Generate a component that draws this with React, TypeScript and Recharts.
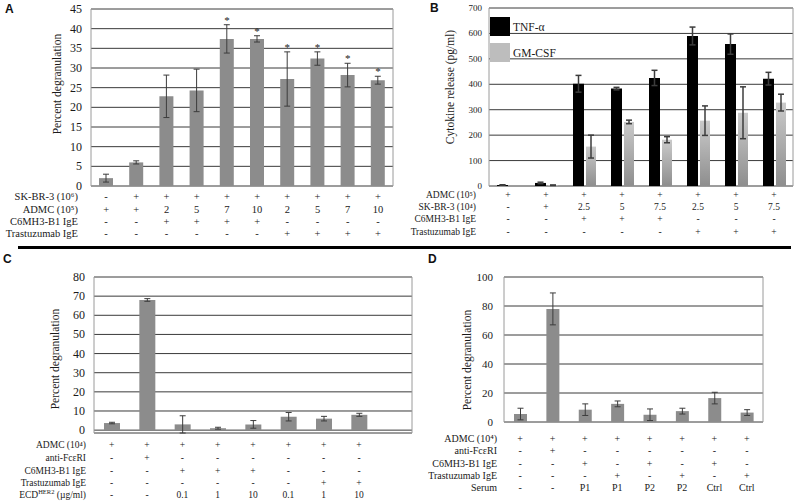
import type { ReactNode } from 'react';
import { Bar, CartesianGrid, ComposedChart, ErrorBar, Legend, Line, XAxis, YAxis } from 'recharts';

const SERIF = '"Liberation Serif", "Times New Roman", serif';
const INK = '#1a1a1a';
const BAR_GRAY = '#8c8c8c';

// A: degranulation, SK-BR-3 + ADMC + IgE
const aDegran = [2, 6, 22.8, 24.3, 37.4, 37.4, 27.2, 32.4, 28.2, 26.9];
const aErr = [1, 0.4, 5.4, 5.4, 3.6, 0.8, 6.9, 1.7, 3, 1];
const aStar = [false, false, false, false, true, true, true, true, true, true];
const aTicks = [0, 5, 10, 15, 20, 25, 30, 35, 40, 45];
const aRowLabels = ['SK-BR-3 (10⁶)', 'ADMC (10⁵)', 'C6MH3-B1 IgE', 'Trastuzumab  IgE'];
const aRows = [
  ['-', '+', '+', '+', '+', '+', '+', '+', '+', '+'],
  ['+', '+', '2', '5', '7', '10', '2', '5', '7', '10'],
  ['-', '-', '+', '+', '+', '+', '-', '-', '-', '-'],
  ['-', '-', '-', '-', '-', '-', '+', '+', '+', '+'],
];

// B: cytokine release
const bTnf = [4, 12, 402, 383, 425, 590, 558, 422];
const bTnfErr = [1, 3, 33, 5, 30, 35, 40, 25];
const bGm = [0, 3, 155, 252, 182, 257, 288, 328];
const bGmErr = [0, 1, 45, 7, 12, 58, 102, 33];
const bTicks = [0, 100, 200, 300, 400, 500, 600, 700];
const bSeries = ['TNF-α', 'GM-CSF'];
const bRowLabels = ['ADMC (10⁵)', 'SK-BR-3 (10⁴)', 'C6MH3-B1 IgE', 'Trastuzumab IgE'];
const bRows = [
  ['+', '+', '+', '+', '+', '+', '+', '+'],
  ['-', '+', '2.5', '5', '7.5', '2.5', '5', '7.5'],
  ['-', '-', '+', '+', '+', '-', '-', '-'],
  ['-', '-', '-', '-', '-', '+', '+', '+'],
];

// C: degranulation with soluble ECD (last slot is empty in the original)
const cDegran = [3.7, 68, 3, 1, 3, 7, 6, 8, null];
const cErr = [0.4, 0.7, 4.5, 0.5, 2, 2.2, 1.2, 0.8, null];
const cTicks = [0, 10, 20, 30, 40, 50, 60, 70, 80];
const cRowLabels: ReactNode[] = [
  'ADMC (10⁴)',
  'anti-FcεRI',
  'C6MH3-B1 IgE',
  'Trastuzumab  IgE',
  <>ECD<tspan baselineShift="super" style={{ fontSize: 6.5 }}>HER2</tspan> (µg/ml)</>,
];
const cRows = [
  ['+', '+', '+', '+', '+', '+', '+', '+'],
  ['-', '+', '-', '-', '-', '-', '-', '-'],
  ['-', '-', '+', '+', '+', '-', '-', '-'],
  ['-', '-', '-', '-', '-', '-', '+', '+'],
  ['-', '-', '0.1', '1', '10', '0.1', '1', '10'],
];

// D: degranulation with patient serum
const dDegran = [5.5, 78, 8.5, 12.5, 5, 7.5, 16.5, 6.5];
const dErr = [4, 11, 4, 2, 4, 2, 4, 2];
const dTicks = [0, 20, 40, 60, 80, 100];
const dRowLabels = ['ADMC (10⁴)', 'anti-FcεRI', 'C6MH3-B1 IgE', 'Trastuzumab  IgE', 'Serum'];
const dRows = [
  ['+', '+', '+', '+', '+', '+', '+', '+'],
  ['-', '+', '-', '-', '-', '-', '-', '-'],
  ['-', '-', '+', '-', '+', '-', '+', '-'],
  ['-', '-', '-', '+', '-', '+', '-', '+'],
  ['-', '-', 'P1', 'P1', 'P2', 'P2', 'Ctrl', 'Ctrl'],
];

const aData = aDegran.map((v, i) => ({ id: `a${i}`, v, err: aErr[i], starY: aStar[i] ? v + aErr[i] : null }));
const bData = bTnf.map((v, i) => ({ id: `b${i}`, tnf: v, tnfErr: bTnfErr[i], gm: bGm[i], gmErr: bGmErr[i] }));
const cData = cDegran.map((v, i) => ({ id: `c${i}`, v, err: cErr[i] }));
const dData = dDegran.map((v, i) => ({ id: `d${i}`, v, err: dErr[i] }));

const txt = (size: number) => ({ fontFamily: SERIF, fontSize: size, fill: INK });

// condition table under the x axis, one column per category
function tableTick(rows: string[][], rowDy: number[], labels: ReactNode[], labelX: number, fontSize: number) {
  return (props: any) => {
    const { x, y, index } = props;
    return (
      <g>
        {rows.map((row, r) => (
          <text key={r} x={x} y={y + rowDy[r]} textAnchor="middle" dominantBaseline="central" style={txt(fontSize)}>
            {row[index] ?? ''}
          </text>
        ))}
        {index === 0 &&
          labels.map((lab, r) => (
            <text key={'l' + r} x={labelX} y={y + rowDy[r]} textAnchor="end" dominantBaseline="central" style={txt(fontSize)}>
              {lab}
            </text>
          ))}
      </g>
    );
  };
}

function yTick(fontSize: number) {
  return (props: any) => (
    <text x={props.x} y={props.y} textAnchor="end" dominantBaseline="central" style={txt(fontSize)}>
      {props.payload.value}
    </text>
  );
}

function yTitle(text: string, cx: number, cy: number, fontSize: number) {
  return () => (
    <text
      x={cx}
      y={cy}
      transform={`rotate(-90 ${cx} ${cy})`}
      textAnchor="middle"
      dominantBaseline="central"
      style={txt(fontSize)}
    >
      {text}
    </text>
  );
}

const starDot = (p: any) => {
  if (p.cy == null || p.payload?.starY == null) return <g key={`s${p.index}`} />;
  return (
    <text key={`s${p.index}`} x={p.cx} y={p.cy - 1} textAnchor="middle" style={txt(11)}>
      *
    </text>
  );
};

const borderX = ({ offset }: any) => [offset.left, offset.left + offset.width];

type PanelProps = {
  left: number;
  top: number;
  width: number;
  height: number;
  margin: { top: number; right: number };
  yWidth: number;
  xHeight: number;
  data: any[];
  ticks: number[];
  tickFont: number;
  tickMargin: number;
  barSize: number;
  title: ReturnType<typeof yTitle>;
  tick: ReturnType<typeof tableTick>;
  stars?: boolean;
};

function DegranPanel(p: PanelProps) {
  return (
    <div style={{ position: 'absolute', left: p.left, top: p.top }}>
      <ComposedChart width={p.width} height={p.height} data={p.data} margin={{ ...p.margin, left: 0, bottom: 0 }}>
        <CartesianGrid vertical={false} stroke="#3a3a3a" />
        <CartesianGrid horizontal={false} stroke="#9a9a9a" verticalCoordinatesGenerator={borderX} />
        <XAxis dataKey="id" interval={0} axisLine={false} tickLine={false} tickSize={0} tickMargin={0} height={p.xHeight} tick={p.tick} />
        <YAxis
          domain={[p.ticks[0], p.ticks[p.ticks.length - 1]]}
          ticks={p.ticks}
          interval={0}
          width={p.yWidth}
          axisLine={false}
          tickLine={false}
          tickSize={0}
          tickMargin={p.tickMargin}
          tick={yTick(p.tickFont)}
          label={p.title}
        />
        <Bar dataKey="v" fill={BAR_GRAY} barSize={p.barSize} isAnimationActive={false}>
          <ErrorBar dataKey="err" width={3} stroke="#3c3c3c" strokeWidth={1} direction="y" />
        </Bar>
        {p.stars && (
          <Line dataKey="starY" stroke="none" dot={starDot} activeDot={false} legendType="none" isAnimationActive={false} />
        )}
      </ComposedChart>
    </div>
  );
}

const bSwatch = ['#000000', '#bdbdbd'];

const renderBLegend = () => (
  <div style={{ fontFamily: SERIF, fontSize: 11.5, color: INK }}>
    {bSeries.map((name, i) => (
      <div key={name} style={{ display: 'flex', alignItems: 'center', height: 19, marginBottom: 7 }}>
        <span style={{ width: 20, height: 19, background: bSwatch[i], display: 'inline-block', marginRight: 3 }} />
        <span>{name}</span>
      </div>
    ))}
  </div>
);

function CytokinePanel() {
  return (
    <div style={{ position: 'absolute', left: 400, top: 0 }}>
      <ComposedChart width={399} height={250} data={bData} barGap={2} margin={{ top: 8, right: 6, left: 0, bottom: 0 }}>
        <defs>
          <linearGradient id="gmFade" x1="0" y1="0" x2="0" y2="1">
            <stop offset="0%" stopColor="#cacaca" />
            <stop offset="100%" stopColor="#8e8e8e" />
          </linearGradient>
        </defs>
        <CartesianGrid vertical={false} stroke="#3a3a3a" />
        <CartesianGrid horizontal={false} stroke="#9a9a9a" verticalCoordinatesGenerator={borderX} />
        <XAxis
          dataKey="id"
          interval={0}
          axisLine={false}
          tickLine={false}
          tickSize={0}
          tickMargin={0}
          height={64}
          tick={tableTick(bRows, [9, 21, 33, 46], bRowLabels, 76, 9.5)}
        />
        <YAxis
          domain={[0, 700]}
          ticks={bTicks}
          interval={0}
          width={89}
          axisLine={false}
          tickLine={false}
          tickSize={0}
          tickMargin={7}
          tick={yTick(9)}
          label={yTitle('Cytokine release (pg/ml)', 50, 87, 11.5)}
        />
        <Legend
          layout="vertical"
          align="center"
          verticalAlign="middle"
          wrapperStyle={{ left: 90, top: 17, width: 'auto' }}
          content={renderBLegend}
        />
        <Bar dataKey="tnf" name={bSeries[0]} fill="#000" barSize={11} isAnimationActive={false}>
          <ErrorBar dataKey="tnfErr" width={3} stroke="#3c3c3c" direction="y" />
        </Bar>
        <Bar dataKey="gm" name={bSeries[1]} fill="url(#gmFade)" barSize={10} isAnimationActive={false}>
          <ErrorBar dataKey="gmErr" width={3} stroke="#3c3c3c" direction="y" />
        </Bar>
      </ComposedChart>
    </div>
  );
}

const letter = (ch: string, left: number, top: number) => (
  <div
    style={{
      position: 'absolute',
      left,
      top,
      fontFamily: '"Liberation Sans", Arial, sans-serif',
      fontWeight: 700,
      fontSize: 12,
      lineHeight: '12px',
      color: '#111',
    }}
  >
    {ch}
  </div>
);

export default function App() {
  return (
    <div
      style={{
        position: 'absolute',
        left: 0,
        top: 0,
        width: 799,
        height: 504,
        background: '#fff',
        overflow: 'hidden',
        fontFamily: SERIF,
      }}
    >
      <DegranPanel
        left={0}
        top={0}
        width={400}
        height={250}
        margin={{ top: 9, right: 7 }}
        yWidth={91}
        xHeight={64}
        data={aData}
        ticks={aTicks}
        tickFont={12}
        tickMargin={9}
        barSize={14}
        title={yTitle('Percent degranulation', 57, 84, 11.5)}
        tick={tableTick(aRows, [10, 23, 35, 47], aRowLabels, 78, 10.5)}
        stars
      />
      <CytokinePanel />
      <DegranPanel
        left={0}
        top={260}
        width={420}
        height={244}
        margin={{ top: 17, right: 8 }}
        yWidth={94}
        xHeight={71}
        data={cData}
        ticks={cTicks}
        tickFont={12}
        tickMargin={9}
        barSize={16}
        title={yTitle('Percent degranulation', 55, 99, 11.5)}
        tick={tableTick(cRows, [12, 25, 38, 50, 62], cRowLabels, 86, 9.5)}
      />
      <DegranPanel
        left={400}
        top={260}
        width={399}
        height={244}
        margin={{ top: 17, right: 36 }}
        yWidth={104}
        xHeight={82}
        data={dData}
        ticks={dTicks}
        tickFont={11}
        tickMargin={11}
        barSize={13}
        title={yTitle('Percent degranulation', 67, 100, 11.5)}
        tick={tableTick(dRows, [16, 28, 41, 53, 65], dRowLabels, 97, 10)}
      />
      <div style={{ position: 'absolute', left: 18, top: 246, width: 773, height: 3, background: '#000' }} />
      {letter('A', 5, 3)}
      {letter('B', 430, 2)}
      {letter('C', 3, 253)}
      {letter('D', 428, 253)}
    </div>
  );
}
